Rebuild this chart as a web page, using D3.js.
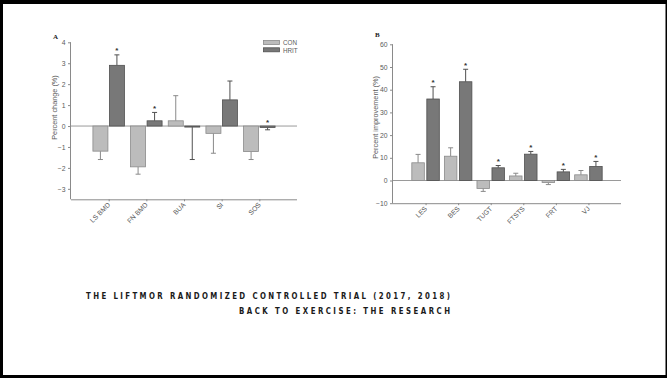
<!DOCTYPE html>
<html><head><meta charset="utf-8">
<script src="https://cdn.jsdelivr.net/npm/d3@7"></script>
<style>body{margin:0;background:#fff}svg{display:block}</style>
</head><body>
<svg id="c" width="667" height="378"></svg>
<script>
// ---- data ----
const seriesNames = ["CON", "HRIT"];
const catsA = ["LS BMD", "FN BMD", "BUA", "SI", "SOS"];
const conA = [-1.2, -1.95, 0.25, -0.35, -1.22];
const conErrA = [-1.6, -2.3, 1.45, -1.3, -1.6];
const hritA = [2.9, 0.25, -0.05, 1.25, -0.07];
const hritErrA = [3.4, 0.65, -1.6, 2.15, -0.18];
const starA = [false, false, false, false, false];
const hritStarA = [true, true, false, false, true];
const ticksA = [-3, -2, -1, 0, 1, 2, 3, 4];

const catsB = ["LES", "BES", "TUGT", "FTSTS", "FRT", "VJ"];
const conB = [7.8, 10.7, -3.5, 2.0, -0.9, 2.5];
const conErrB = [11.5, 14.4, -4.8, 3.2, -1.8, 4.4];
const hritB = [35.9, 43.5, 5.6, 11.6, 3.8, 6.2];
const hritErrB = [41.3, 49.0, 6.6, 12.8, 4.9, 8.4];
const hritStarB = [true, true, true, true, true, true];
const ticksB = [-10, 0, 10, 20, 30, 40, 50, 60];

const titleLines = ["THE LIFTMOR RANDOMIZED CONTROLLED TRIAL (2017, 2018)", "BACK TO EXERCISE: THE RESEARCH"];

// ---- styles ----
const conFill = "#bcbcbc", conStroke = "#8a8a8a";
const hritFill = "#787878", hritStroke = "#505050";
const axisCol = "#8a8a8a", textCol = "#5a5a5a";
const font = "Liberation Sans, Arial, sans-serif";

const svg = d3.select("#c");
svg.append("rect").attr("width", 667).attr("height", 378).attr("fill", "#fff");

function panel(opt) {
  const g = svg.append("g");
  const x = d3.scalePoint().domain(opt.cats).range([opt.x0, opt.x1]).padding(1);
  const y = d3.scaleLinear().domain(opt.domain).range([opt.yBottom, opt.yTop]);
  const bw = opt.bw, gap = opt.gap;

  g.append("line").attr("x1", opt.x0).attr("x2", opt.x1).attr("y1", y(0)).attr("y2", y(0))
    .attr("stroke", "#9a9a9a").attr("stroke-width", 1);

  const ya = d3.axisLeft(y).tickValues(opt.ticks).tickSize(3).tickPadding(2.5).tickFormat(d3.format("d"));
  const yg = g.append("g").attr("transform", `translate(${opt.x0},0)`).call(ya);
  yg.select(".domain").attr("stroke", axisCol).attr("d", `M-0.5,${opt.yTop}V${opt.yBottom}`);
  yg.selectAll(".tick line").attr("stroke", axisCol);
  yg.selectAll(".tick text").attr("fill", textCol).style("font", `6.8px ${font}`);

  const xa = d3.axisBottom(x).tickSize(2).tickFormat("");
  const xg = g.append("g").attr("transform", `translate(0,${opt.yBottom})`).call(xa);
  xg.select(".domain").attr("stroke", axisCol).attr("d", `M${opt.x0},0.5H${opt.x1}`);
  xg.selectAll(".tick line").attr("stroke", axisCol);
  g.selectAll(".xl").data(opt.cats).enter().append("text")
    .attr("transform", d => `translate(${x(d) + 2},${opt.yBottom + 6}) rotate(-45)`)
    .attr("text-anchor", "end").attr("fill", textCol).style("font", `6.8px ${font}`).text(d => d);

  const series = [
    {v: opt.con, e: opt.conErr, star: opt.conStar, fill: conFill, stroke: conStroke, off: -bw - gap / 2},
    {v: opt.hrit, e: opt.hritErr, star: opt.hritStar, fill: hritFill, stroke: hritStroke, off: gap / 2}
  ];
  series.forEach(s => {
    opt.cats.forEach((c, i) => {
      const bx = x(c) + s.off;
      const v = s.v[i], e = s.e[i];
      const cx = bx + bw / 2;
      g.append("line").attr("x1", cx).attr("x2", cx).attr("y1", y(v)).attr("y2", y(e))
        .attr("stroke", s.stroke).attr("stroke-width", 1);
      g.append("line").attr("x1", cx - 2.5).attr("x2", cx + 2.5).attr("y1", y(e)).attr("y2", y(e))
        .attr("stroke", s.stroke).attr("stroke-width", 1);
      g.append("rect").attr("x", bx).attr("width", bw)
        .attr("y", Math.min(y(v), y(0))).attr("height", Math.max(1, Math.abs(y(v) - y(0))))
        .attr("fill", s.fill).attr("stroke", s.stroke).attr("stroke-width", 0.8);
      if (s.star && s.star[i]) {
        const top = Math.max(v, e, 0);
        g.append("text").attr("x", cx).attr("y", y(top) - 1.5).attr("text-anchor", "middle")
          .attr("fill", "#333").style("font", `bold 8px ${font}`).text("*");
      }
    });
  });

  g.append("text").attr("transform", `translate(${opt.labX},${opt.labY}) rotate(-90)`)
    .attr("text-anchor", "middle").attr("fill", textCol).style("font", `7.3px ${font}`).text(opt.ylabel);
  g.append("text").attr("x", opt.letterX).attr("y", opt.letterY).attr("fill", "#222")
    .style("font", "bold 7px Liberation Serif, serif").text(opt.letter);
  return {x, y, g};
}

panel({cats: catsA, con: conA, conErr: conErrA, hrit: hritA, hritErr: hritErrA, conStar: starA, hritStar: hritStarA,
  domain: [-3.5, 4], ticks: ticksA, x0: 71, x1: 297, yTop: 42.3, yBottom: 199.3, bw: 15, gap: 1.5,
  ylabel: "Percent change (%)", labX: 56.5, labY: 107.5, letter: "A", letterX: 53, letterY: 39});

panel({cats: catsB, con: conB, conErr: conErrB, hrit: hritB, hritErr: hritErrB, conStar: null, hritStar: hritStarB,
  domain: [-10, 60], ticks: ticksB, x0: 393, x1: 621, yTop: 44.3, yBottom: 203.2, bw: 12.5, gap: 2.5,
  ylabel: "Percent improvement (%)", labX: 377.5, labY: 117.5, letter: "B", letterX: 375, letterY: 37});

// legend
const leg = svg.append("g");
seriesNames.forEach((n, i) => {
  leg.append("rect").attr("x", 263.5).attr("y", 40.5 + i * 7.3).attr("width", 16).attr("height", 4)
    .attr("fill", i ? hritFill : conFill).attr("stroke", i ? hritStroke : conStroke).attr("stroke-width", 0.8);
  leg.append("text").attr("x", 283).attr("y", 45.3 + i * 7.3).attr("fill", textCol)
    .style("font", `6.3px ${font}`).text(n);
});

// title
const tFont = "bold 9.5px 'DejaVu Sans Condensed', 'DejaVu Sans', sans-serif";
svg.append("text").attr("x", 86).attr("y", 299.3).attr("fill", "#1a1a1a")
  .attr("lengthAdjust", "spacing")
  .style("font", tFont).attr("transform", "translate(86,299.3) scale(0.82,1) translate(-86,-299.3)")
  .attr("textLength", 364 / 0.82).text(titleLines[0]);
svg.append("text").attr("x", 239).attr("y", 314.5).attr("fill", "#1a1a1a")
  .attr("lengthAdjust", "spacing")
  .style("font", tFont).attr("transform", "translate(239,314.5) scale(0.82,1) translate(-239,-314.5)")
  .attr("textLength", 211 / 0.82).text(titleLines[1]);

// frame
svg.append("rect").attr("x", 0).attr("y", 0).attr("width", 3).attr("height", 378).attr("fill", "#000");
svg.append("rect").attr("x", 0).attr("y", 0).attr("width", 667).attr("height", 4).attr("fill", "#000");
svg.append("rect").attr("x", 0).attr("y", 375).attr("width", 667).attr("height", 3).attr("fill", "#000");
svg.append("rect").attr("x", 665.5).attr("y", 0).attr("width", 1.5).attr("height", 378).attr("fill", "#000");
</script>
</body></html>
